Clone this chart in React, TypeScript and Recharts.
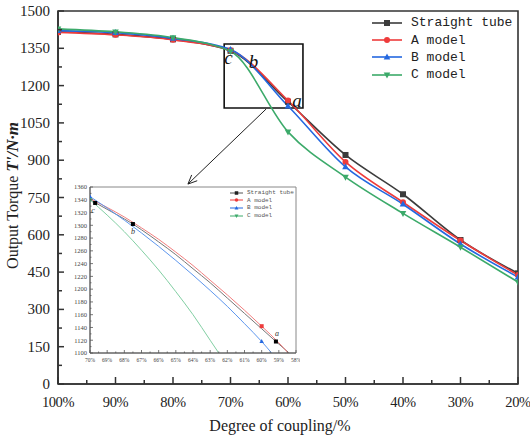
import React from "react";
import {
  ComposedChart,
  Line,
  XAxis,
  YAxis,
  ReferenceArea,
  ReferenceLine,
  ReferenceDot,
} from "recharts";

// main chart data
const coupling = [100, 90, 80, 70, 60, 50, 40, 30, 20];
const straightTube = [1416, 1406, 1386, 1340, 1135, 921, 763, 579, 445];
const modelA = [1414, 1404, 1384, 1342, 1140, 893, 731, 577, 438];
const modelB = [1421, 1413, 1390, 1345, 1118, 873, 723, 563, 430];
const modelC = [1428, 1416, 1393, 1338, 1014, 832, 686, 550, 410];

const xTicks = [100, 95, 90, 85, 80, 75, 70, 65, 60, 55, 50, 45, 40, 35, 30, 25, 20];
const yTicks = [0, 75, 150, 225, 300, 375, 450, 525, 600, 675, 750, 825, 900, 975, 1050, 1125, 1200, 1275, 1350, 1425, 1500];

// zoomed window
const insetStraightX = [70, 69, 68, 67.5, 67, 66, 65, 64, 63, 62, 61, 60, 59.17, 58.4];
const insetStraightY = [1340, 1325, 1310, 1302, 1293, 1274, 1254, 1232, 1210, 1186, 1162, 1138, 1118, 1100];
const insetAX = [70, 69, 68, 67, 66, 65, 64, 63, 62, 61, 60, 59, 58.45];
const insetAY = [1342, 1328, 1313, 1296, 1278, 1258, 1237, 1214, 1191, 1167, 1142, 1116, 1100];
const insetBX = [70, 69, 68, 67, 66, 65, 64, 63, 62, 61, 60, 59.42];
const insetBY = [1345, 1327, 1308, 1288, 1267, 1245, 1222, 1198, 1173, 1146, 1118, 1100];
const insetCX = [70, 69, 68, 67, 66, 65, 64, 63, 62.5];
const insetCY = [1340, 1316, 1290, 1261, 1230, 1196, 1160, 1120, 1100];

// highlighted points in the zoom window
const markStraightX = [69.7, 67.5, 59.17];
const markStraightY = [1335, 1302, 1118];
const markStraightTag = ["c", "b", "a"];
const markAX = [60];
const markAY = [1142];
const markBX = [70, 60];
const markBY = [1345, 1118];
const markCX = [70];
const markCY = [1340];

const insetXTicks = [70, 69.5, 69, 68.5, 68, 67.5, 67, 66.5, 66, 65.5, 65, 64.5, 64, 63.5, 63, 62.5, 62, 61.5, 61, 60.5, 60, 59.5, 59, 58.5, 58];
const insetYTicks = [1100, 1110, 1120, 1130, 1140, 1150, 1160, 1170, 1180, 1190, 1200, 1210, 1220, 1230, 1240, 1250, 1260, 1270, 1280, 1290, 1300, 1310, 1320, 1330, 1340, 1350, 1360];

// labels on the main chart
const mainTagX = [70, 66, 60];
const mainTagY = [1340, 1290, 1140];
const mainTags = ["c", "b", "a"];

const series = [
  { key: "straight", name: "Straight tube", color: "#3c3c3c", shape: "square", values: straightTube },
  { key: "a", name: "A model", color: "#ee3b3b", shape: "circle", values: modelA },
  { key: "b", name: "B model", color: "#2468e0", shape: "up", values: modelB },
  { key: "c", name: "C model", color: "#3caa6a", shape: "down", values: modelC },
];

const mainData = coupling.map((x, i) => ({
  x,
  straight: straightTube[i],
  a: modelA[i],
  b: modelB[i],
  c: modelC[i],
}));

const zip = (xs: number[], ys: number[], tags?: string[]) =>
  xs.map((x, i) => ({ x, y: ys[i], tag: tags ? tags[i] : "" }));

const insetLines = [
  { color: "#777777", data: zip(insetStraightX, insetStraightY) },
  { color: "#f27f7f", data: zip(insetAX, insetAY) },
  { color: "#5e97ee", data: zip(insetBX, insetBY) },
  { color: "#82cfa3", data: zip(insetCX, insetCY) },
];

const insetMarks = [
  { color: "#000", shape: "square", data: zip(markStraightX, markStraightY, markStraightTag) },
  { color: "#ee3b3b", shape: "square", data: zip(markAX, markAY) },
  { color: "#2468e0", shape: "up", data: zip(markBX, markBY) },
  { color: "#3caa6a", shape: "down", data: zip(markCX, markCY) },
];

const serif = "'Liberation Serif', 'Times New Roman', serif";
const mono = "'Liberation Mono', 'DejaVu Sans Mono', monospace";

const Marker = ({ cx, cy, shape, color, size }: any) => {
  const s = size;
  if (cx == null || cy == null) return null;
  if (shape === "square") return <rect x={cx - s / 2} y={cy - s / 2} width={s} height={s} fill={color} />;
  if (shape === "circle") return <circle cx={cx} cy={cy} r={s / 2} fill={color} />;
  if (shape === "up")
    return <polygon points={`${cx},${cy - s * 0.6} ${cx - s * 0.55},${cy + s * 0.4} ${cx + s * 0.55},${cy + s * 0.4}`} fill={color} />;
  return <polygon points={`${cx},${cy + s * 0.6} ${cx - s * 0.55},${cy - s * 0.4} ${cx + s * 0.55},${cy - s * 0.4}`} fill={color} />;
};

const MainXTick = ({ x, y, payload }: any) => {
  const v = payload.value;
  const major = v % 10 === 0;
  return (
    <g>
      <line x1={x} x2={x} y1={y} y2={y - (major ? 7 : 4)} stroke="#333" strokeWidth={1.5} />
      {major && (
        <text x={x} y={y + 23} textAnchor="middle" fontFamily={serif} fontSize={14.5} letterSpacing={-0.4} fill="#222">
          {v}%
        </text>
      )}
    </g>
  );
};

const MainYTick = ({ x, y, payload }: any) => {
  const v = payload.value;
  const major = v % 150 === 0;
  return (
    <g>
      <line x1={x} x2={x + (major ? 6 : 4)} y1={y} y2={y} stroke="#333" strokeWidth={1.5} />
      {major && (
        <text x={x - 8} y={y + 5} textAnchor="end" fontFamily={serif} fontSize={15} fill="#222">
          {v}
        </text>
      )}
    </g>
  );
};

const InsetXTick = ({ x, y, payload }: any) => {
  const v = payload.value;
  const major = Number.isInteger(v);
  return (
    <g>
      <line x1={x} x2={x} y1={y} y2={y - (major ? 3 : 1.5)} stroke="#555" strokeWidth={0.8} />
      {major && (
        <text x={x} y={y + 9} textAnchor="middle" fontFamily={serif} fontSize={5.5} fill="#444">
          {v}%
        </text>
      )}
    </g>
  );
};

const InsetYTick = ({ x, y, payload }: any) => {
  const v = payload.value;
  const major = v % 20 === 0;
  return (
    <g>
      <line x1={x} x2={x + (major ? 3 : 1.5)} y1={y} y2={y} stroke="#555" strokeWidth={0.8} />
      {major && (
        <text x={x - 3} y={y + 2.3} textAnchor="end" fontFamily={serif} fontSize={6.5} fill="#444">
          {v}
        </text>
      )}
    </g>
  );
};

const YTitle = ({ viewBox }: any) => {
  const cy = viewBox.y + viewBox.height / 2 - 2;
  const cx = 18;
  return (
    <text
      x={cx}
      y={cy}
      transform={`rotate(-90 ${cx} ${cy})`}
      textAnchor="middle"
      fontFamily={serif}
      fontSize={16}
      fill="#222"
    >
      Output Torque{" "}
      <tspan fontStyle="italic" fontWeight="bold" fontSize={17}>
        T'/N·m
      </tspan>
    </text>
  );
};

const XTitle = ({ viewBox }: any) => (
  <text
    x={viewBox.x + viewBox.width / 2 - 8}
    y={431}
    textAnchor="middle"
    fontFamily={serif}
    fontSize={16}
    fill="#222"
  >
    Degree of coupling/%
  </text>
);

const Arrow = (p: any) => {
  const { x1, y1, x2, y2 } = p;
  const ang = Math.atan2(y2 - y1, x2 - x1);
  const len = 9;
  const w = 4;
  const bx = x2 - len * Math.cos(ang);
  const by = y2 - len * Math.sin(ang);
  const px = -Math.sin(ang) * w;
  const py = Math.cos(ang) * w;
  return (
    <g>
      <line x1={x1} y1={y1} x2={x2} y2={y2} stroke="#222" strokeWidth={1} />
      <polyline points={`${bx + px},${by + py} ${x2},${y2} ${bx - px},${by - py}`} fill="none" stroke="#222" strokeWidth={1} />
    </g>
  );
};

const MainLegend = () => (
  <div style={{ position: "absolute", left: 370, top: 14, fontFamily: mono, fontSize: 13, color: "#222", whiteSpace: "nowrap" }}>
    {series.map((s) => (
      <div key={s.key} style={{ display: "flex", alignItems: "center", height: 17.4 }}>
        <svg width={36} height={12} style={{ marginRight: 5 }}>
          <line x1={2} x2={32} y1={6} y2={6} stroke={s.color} strokeWidth={1.6} />
          <Marker cx={17} cy={6} shape={s.shape} color={s.color} size={6} />
        </svg>
        <span>{s.name}</span>
      </div>
    ))}
  </div>
);

const InsetLegend = () => (
  <div style={{ position: "absolute", left: 229, top: 189, fontFamily: mono, fontSize: 6, color: "#555", whiteSpace: "nowrap", width: 70 }}>
    {series.map((s) => (
      <div key={s.key} style={{ display: "flex", alignItems: "center", height: 7.6 }}>
        <svg width={16} height={6} style={{ marginRight: 2, flexShrink: 0 }}>
          <line x1={1} x2={14} y1={3} y2={3} stroke={s.key === "straight" ? "#555" : s.color} strokeWidth={1} />
          <Marker cx={7.5} cy={3} shape={s.shape} color={s.key === "straight" ? "#222" : s.color} size={3.5} />
        </svg>
        <span>{s.name}</span>
      </div>
    ))}
  </div>
);

const Inset = () => (
  <div style={{ position: "absolute", left: 60, top: 180 }}>
    <ComposedChart width={240} height={190} margin={{ top: 7, right: 4, left: 0, bottom: 0 }}>
      <XAxis
        type="number"
        dataKey="x"
        domain={[58, 70]}
        reversed
        ticks={insetXTicks}
        interval={0}
        allowDataOverflow
        tickSize={0}
        tickMargin={0}
        height={17}
        axisLine={{ stroke: "#555", strokeWidth: 1 }}
        tickLine={false}
        tick={InsetXTick}
      />
      <YAxis
        type="number"
        domain={[1100, 1360]}
        ticks={insetYTicks}
        interval={0}
        allowDataOverflow
        tickSize={0}
        tickMargin={0}
        width={30}
        axisLine={{ stroke: "#555", strokeWidth: 1 }}
        tickLine={false}
        tick={InsetYTick}
      />
      <ReferenceArea x1={70} x2={58} y1={1100} y2={1360} fill="none" stroke="#888" strokeWidth={1} />
      {insetLines.map((l, i) => (
        <Line
          key={`il${i}`}
          data={l.data}
          dataKey="y"
          type="monotone"
          stroke={l.color}
          strokeWidth={1}
          dot={false}
          activeDot={false}
          isAnimationActive={false}
        />
      ))}
      {insetMarks.map((m, i) => (
        <Line
          key={`im${i}`}
          data={m.data}
          dataKey="y"
          stroke="none"
          activeDot={false}
          isAnimationActive={false}
          dot={(p: any) => (
            <g key={`imd${i}-${p.index}`}>
              <Marker cx={p.cx} cy={p.cy} shape={m.shape} color={m.color} size={4} />
              {p.payload.tag && (
                <text
                  x={p.cx + (p.payload.tag === "c" ? -2 : p.payload.tag === "a" ? 1 : 0)}
                  y={p.cy + (p.payload.tag === "a" ? -6 : 10)}
                  textAnchor="middle"
                  fontFamily={serif}
                  fontStyle="italic"
                  fontSize={8}
                  fill="#333"
                >
                  {p.payload.tag}
                </text>
              )}
            </g>
          )}
        />
      ))}
    </ComposedChart>
    <div style={{ position: "absolute", left: -60, top: -180 }}>
      <InsetLegend />
    </div>
  </div>
);

const App = () => (
  <div style={{ position: "absolute", left: 0, top: 0, width: 530, height: 437, background: "#fff" }}>
    <ComposedChart width={530} height={437} data={mainData} margin={{ top: 11, right: 12, left: 0, bottom: 0 }}>
      <XAxis
        type="number"
        dataKey="x"
        domain={[20, 100]}
        reversed
        ticks={xTicks}
        interval={0}
        allowDataOverflow
        tickSize={0}
        tickMargin={0}
        height={53}
        axisLine={{ stroke: "#333", strokeWidth: 1.6 }}
        tickLine={false}
        tick={MainXTick}
        label={{ content: XTitle }}
      />
      <YAxis
        type="number"
        domain={[0, 1500]}
        ticks={yTicks}
        interval={0}
        allowDataOverflow
        tickSize={0}
        tickMargin={0}
        width={58}
        axisLine={{ stroke: "#333", strokeWidth: 1.6 }}
        tickLine={false}
        tick={MainYTick}
        label={{ content: YTitle }}
      />
      <ReferenceArea x1={100} x2={20} y1={0} y2={1500} fill="none" stroke="#333" strokeWidth={1.6} ifOverflow="visible" />
      <ReferenceArea x1={71.1} x2={57.4} y1={1110} y2={1367} fill="none" stroke="#111" strokeWidth={1.6} ifOverflow="visible" />
      <ReferenceLine
        segment={[
          { x: 63.8, y: 1106 },
          { x: 77.4, y: 804 },
        ]}
        ifOverflow="visible"
        shape={Arrow}
      />
      {series.map((s) => (
        <Line
          key={s.key}
          dataKey={s.key}
          type="monotone"
          stroke={s.color}
          strokeWidth={1.6}
          activeDot={false}
          isAnimationActive={false}
          dot={(p: any) => <Marker key={`${s.key}-${p.index}`} cx={p.cx} cy={p.cy} shape={s.shape} color={s.color} size={6} />}
        />
      ))}
      {mainTags.map((t, i) => (
        <ReferenceDot
          key={`tag${t}`}
          x={mainTagX[i]}
          y={mainTagY[i]}
          r={0}
          ifOverflow="visible"
          shape={(p: any) => (
            <text
              x={p.cx + (t === "c" ? -2 : t === "a" ? 9 : 0)}
              y={p.cy + (t === "c" ? 13 : t === "a" ? 6 : 5)}
              textAnchor="middle"
              fontFamily={serif}
              fontStyle="italic"
              fontSize={19}
              fill="#111"
            >
              {t}
            </text>
          )}
        />
      ))}
    </ComposedChart>
    <MainLegend />
    <Inset />
  </div>
);

export default App;
